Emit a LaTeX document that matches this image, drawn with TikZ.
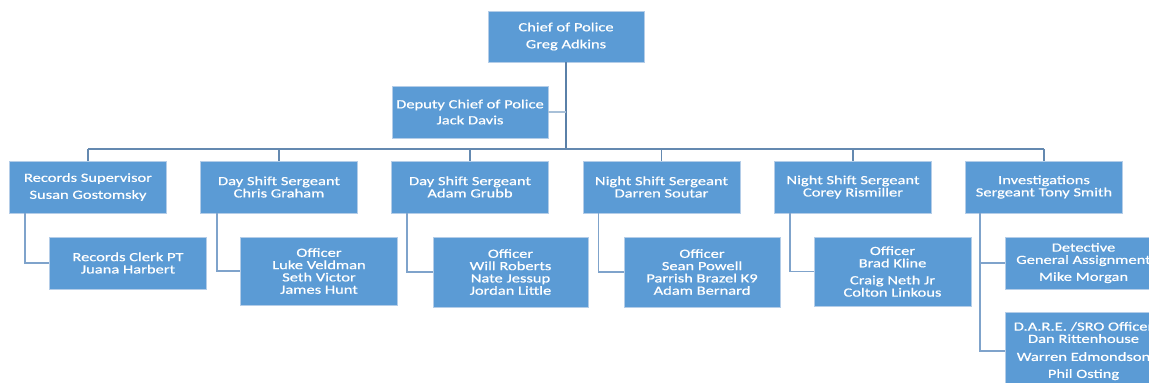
\documentclass[tikz,border=0pt]{standalone}
\usepackage{fontspec}
\setmainfont{Carlito}[FakeStretch=1.32,FakeBold=0.6]
\definecolor{boxblue}{HTML}{5B9BD5}
\definecolor{boxedge}{HTML}{B4CDE8}
\definecolor{mainln}{HTML}{5A80A8}
\definecolor{busln}{HTML}{6489B0}
\definecolor{childln}{HTML}{7FA3CB}
\definecolor{depln}{HTML}{A8C0D8}
\begin{document}
\begin{tikzpicture}[x=1pt,y=-1pt,
  box/.style={rectangle, fill=boxblue, draw=boxedge, line width=0.8pt, text=white,
    align=center, inner sep=0pt, minimum width=157pt, minimum height=52pt,
    font=\fontsize{12.5}{12.3}\selectfont},
  mainline/.style={draw=mainln, line width=2.4pt},
  busline/.style={draw=busln, line width=1.7pt},
  childline/.style={draw=childln, line width=1.6pt},
  depline/.style={draw=depln, line width=1.6pt}]
\useasboundingbox[fill=white] (0,0) rectangle (1149,383);
% top
\node[box, minimum width=156pt, minimum height=51pt] (chief) at (566,36.5) {Chief of Police\\[4.7pt]Greg Adkins};
\node[box, minimum width=156pt] (deputy) at (470,112) {Deputy Chief of Police\\[3.7pt]Jack Davis};
\coordinate (bus) at (566,149);
% row 1
\node[box] (rs) at (88,187) {Records Supervisor\\[4.7pt]Susan Gostomsky};
\node[box] (dcg) at (279,187) {Day Shift Sergeant\\Chris Graham};
\node[box] (dag) at (470,187) {Day Shift Sergeant\\Adam Grubb};
\node[box] (nds) at (661.5,187) {Night Shift Sergeant\\Darren Soutar};
\node[box] (ncr) at (853,187) {Night Shift Sergeant\\Corey Rismiller};
\node[box] (inv) at (1044,187) {Investigations\\Sergeant Tony Smith};
% row 2
\node[box] (clerk) at (128,263) {Records Clerk PT\\Juana Harbert};
\node[box, minimum height=68pt] (o1) at (319,271) {Officer\\Luke Veldman\\Seth Victor\\James Hunt};
\node[box, minimum width=155pt, minimum height=70pt] (o2) at (510.5,272) {Officer\\Will Roberts\\Nate Jessup\\Jordan Little};
\node[box, minimum width=156pt, minimum height=70pt] (o3) at (702,272) {Officer\\Sean Powell\\Parrish Brazel K9\\Adam Bernard};
\node[box, minimum height=69pt] (o4) at (892.5,271.5) {Officer\\Brad Kline\\[4.7pt]Craig Neth Jr\\Colton Linkous};
\node[box] (det) at (1083.5,263) {Detective\\General Assignment\\[4.7pt]Mike Morgan};
\node[box, minimum height=78pt] (dare) at (1083.5,351) {D.A.R.E. /SRO Officer\\Dan Rittenhouse\\[5.7pt]Warren Edmondson\\[4.7pt]Phil Osting};
% connectors
\draw[mainline] (chief.south) -- (chief.south |- bus);
\draw[depline] (deputy.east) -- (deputy.east -| chief.south);
\draw[busline] (rs.north |- bus) -- (inv.north |- bus);
\foreach \n in {rs,dcg,dag,nds,ncr,inv} \draw[busline] (\n.north |- bus) -- (\n.north);
\draw[childline] ([xshift=16pt]rs.south west) |- (clerk.west);
\draw[childline] ([xshift=17pt]dcg.south west) |- (o1.west);
\draw[childline] ([xshift=16pt]dag.south west) |- (o2.west);
\draw[childline] ([xshift=16pt]nds.south west) |- (o3.west);
\draw[childline] ([xshift=16pt]ncr.south west) |- (o4.west);
\draw[childline] ([xshift=15pt]inv.south west) |- (det.west);
\draw[childline] ([xshift=15pt]inv.south west) |- (dare.west);
\end{tikzpicture}
\end{document}
